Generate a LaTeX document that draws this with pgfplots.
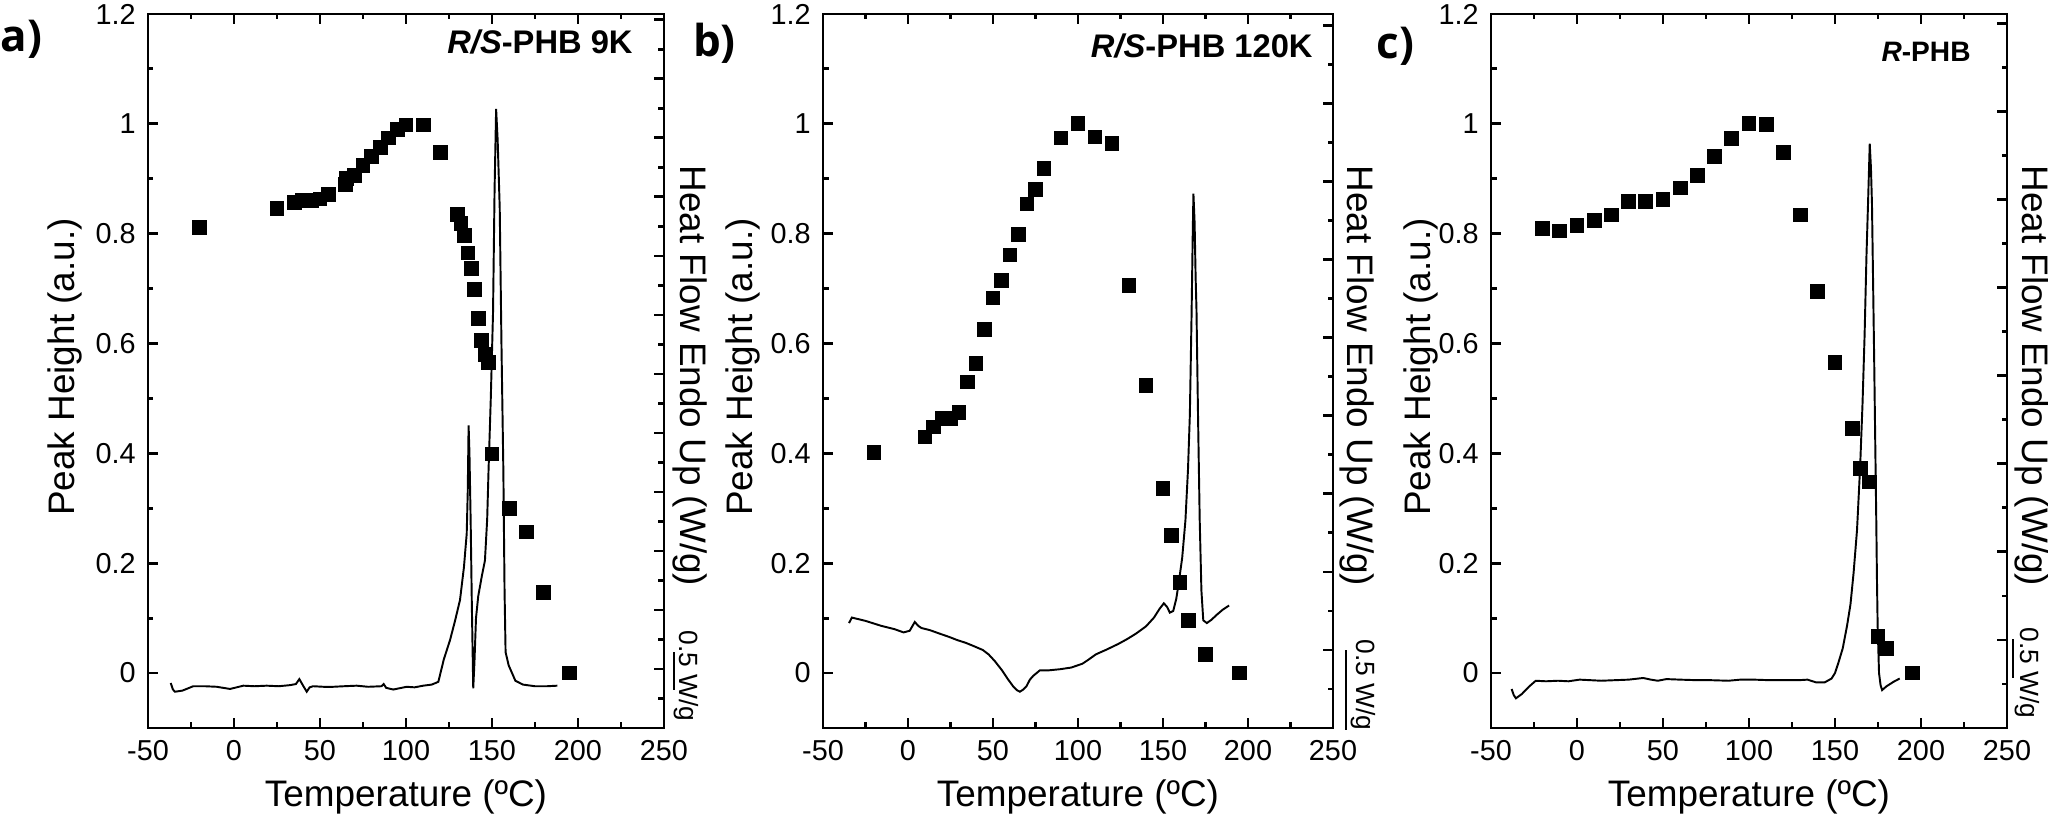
\documentclass[border=0pt]{standalone}
\usepackage{fontspec}
\setmainfont{Liberation Sans}
\newfontfamily\plabelfont{Open Sans}
\usepackage{pgfplots}
\pgfplotsset{compat=1.18}
\pgfplotsset{
  panel/.style={
    scale only axis, anchor=south west, height=7.14cm,
    xmin=-50, xmax=250, ymin=-0.1, ymax=1.2,
    xtick={-50,0,50,100,150,200,250}, minor x tick num=1,
    ytick={0,0.2,0.4,0.6,0.8,1,1.2}, minor y tick num=1,
    tick align=inside, ytick pos=left, xtick pos=both,
    major tick length=1mm, minor tick length=0.55mm,
    axis line style={line width=0.8pt},
    every tick/.style={black, line width=0.8pt},
    tick label style={font=\fontsize{8.2}{9.8}\selectfont},
    /pgf/number format/assume math mode=true,
  },
  rticks/.style={
    scale only axis, anchor=south west, height=7.14cm,
    xmin=-50, xmax=250, ymin=0,
    hide x axis, axis y line*=right,
    ytick distance=1, minor y tick num=1, yticklabels={},
    yticklabel style={opacity=0},
    tick align=inside, major tick length=1mm, minor tick length=0.55mm,
    axis line style={-, line width=0.8pt},
    every tick/.style={black, line width=0.8pt},
  },
  pts/.style={only marks, mark=square*, mark size=1.9pt, black},
  dsc/.style={black, line width=0.55pt, mark=none},
}
\begin{document}
\begin{tikzpicture}[x=1cm,y=1cm]
\useasboundingbox (0,0) rectangle (20.48,8.18);

% ---------------- panel a ----------------
\begin{axis}[panel, at={(1.48cm,0.90cm)}, width=5.16cm]
\addplot[pts] coordinates {
(-20,0.811) (25,0.846) (35,0.857) (40,0.860) (45,0.861) (50,0.863) (55,0.872)
(65,0.889) (65.5,0.900) (70,0.906) (75,0.924) (80,0.941) (85,0.957) (90,0.974)
(95,0.990) (100,0.998) (110,0.998) (120,0.948) (130,0.835) (132,0.818)
(134,0.796) (136,0.765) (138,0.737) (140,0.699) (142,0.646) (144,0.606)
(146,0.580) (148,0.566) (150,0.399) (160,0.300) (170,0.257) (180,0.147) (195,0.0)
};
\addplot[dsc] coordinates {
(-36.8,-0.018) (-35.5,-0.030) (-34.3,-0.034) (-30,-0.032) (-23.7,-0.024) (-17,-0.024)
(-10,-0.025) (-2.3,-0.029) (5.4,-0.023) (12,-0.024) (19,-0.023) (26,-0.024)
(32.6,-0.022) (36,-0.020) (38,-0.011) (40,-0.022) (42.3,-0.034) (44,-0.026)
(46,-0.024) (52,-0.025) (57.7,-0.025) (64,-0.024) (71.3,-0.023) (78,-0.025)
(85.8,-0.024) (87,-0.020) (88.5,-0.027) (92.6,-0.030) (100.4,-0.025) (105,-0.026)
(110,-0.023) (115,-0.021) (118.8,-0.016) (122,0.025) (125.6,0.060) (128.5,0.095)
(131.4,0.133) (133.7,0.193) (135.3,0.254) (135.9,0.33) (136.4,0.451) (136.9,0.40)
(137.6,0.276) (138.3,0.12) (139.1,-0.028) (139.8,0.02) (140.7,0.10) (142,0.140)
(144,0.175) (145.9,0.205) (147.2,0.28) (148,0.37) (149.3,0.50) (150.6,0.656)
(151.5,0.88) (152.4,1.027) (153.3,0.97) (154.5,0.846) (155.5,0.60) (156.6,0.37)
(157.3,0.15) (157.9,0.038) (159.7,0.014) (163.6,-0.014) (168,-0.021) (175,-0.024)
(182,-0.024) (188,-0.023)
};
\end{axis}
\begin{axis}[rticks, at={(1.48cm,0.90cm)}, width=5.16cm, ymax=12.1]
\addplot[draw=none] coordinates {(0,1)};
\end{axis}

% ---------------- panel b ----------------
\begin{axis}[panel, at={(8.23cm,0.90cm)}, width=5.10cm]
\addplot[pts] coordinates {
(-20,0.401) (10,0.430) (15,0.448) (20,0.463) (25,0.463) (30,0.475) (35,0.530)
(40,0.564) (45,0.626) (50,0.683) (55,0.715) (60,0.761) (65,0.798) (70,0.854)
(75,0.880) (80,0.918) (90,0.974) (100,1.000) (110,0.976) (120,0.964) (130,0.705)
(140,0.523) (150,0.336) (155,0.250) (160,0.165) (165,0.096) (175,0.034) (195,0.0)
};
\addplot[dsc] coordinates {
(-34.7,0.091) (-33,0.101) (-25,0.095) (-15.8,0.086) (-8,0.080) (-2.6,0.074) (1,0.077)
(4,0.093) (6,0.086) (7.9,0.082) (13,0.078) (18.4,0.072) (24,0.066) (29,0.060)
(34,0.055) (39.5,0.048) (44,0.042) (47.4,0.034) (51,0.022) (55.3,0.005) (58.5,-0.010)
(61.8,-0.024) (64,-0.031) (65.8,-0.034) (67.8,-0.030) (69.7,-0.024) (71.7,-0.012)
(73.7,-0.005) (77.6,0.005) (83,0.005) (89.5,0.007) (96,0.010) (102.6,0.017)
(106,0.024) (110.5,0.034) (117,0.043) (123.7,0.053) (129,0.062) (134.2,0.072)
(140,0.085) (144.7,0.101) (148,0.117) (150.5,0.127) (152.5,0.120) (154,0.110)
(156,0.113) (157.8,0.135) (159.2,0.163) (161.3,0.210) (163.2,0.278) (164.7,0.370)
(165.8,0.470) (166.8,0.650) (167.5,0.800) (167.9,0.873) (168.6,0.820) (169.2,0.720)
(169.7,0.662) (170.6,0.470) (171.6,0.278) (172.6,0.150) (173.7,0.096) (175.8,0.091)
(178.5,0.097) (181.6,0.106) (185,0.115) (188.9,0.123)
};
\end{axis}
\begin{axis}[rticks, at={(8.23cm,0.90cm)}, width=5.10cm, ymax=9.15]
\addplot[draw=none] coordinates {(0,1)};
\end{axis}

% ---------------- panel c ----------------
\begin{axis}[panel, at={(14.91cm,0.90cm)}, width=5.16cm]
\addplot[pts] coordinates {
(-20,0.809) (-10,0.805) (0,0.815) (10,0.824) (20,0.834) (30,0.858) (40,0.859)
(50,0.862) (60,0.883) (70,0.906) (80,0.940) (90,0.973) (100,1.000) (110,0.999)
(120,0.948) (130,0.834) (140,0.695) (150,0.566) (160,0.445) (165,0.372)
(170,0.348) (175,0.067) (180,0.045) (195,0.0)
};
\addplot[dsc] coordinates {
(-38,-0.029) (-36.8,-0.040) (-35.5,-0.046) (-32,-0.038) (-28,-0.025) (-24,-0.014)
(-18,-0.015) (-11,-0.014) (-5,-0.015) (1.5,-0.012) (8,-0.013) (14,-0.014) (22,-0.013)
(30,-0.012) (38.5,-0.009) (43,-0.012) (47,-0.014) (52,-0.011) (60,-0.012)
(70,-0.013) (78,-0.013) (88,-0.014) (95,-0.012) (103,-0.012) (112,-0.013)
(120,-0.013) (129,-0.013) (134,-0.012) (139,-0.017) (144,-0.017) (148,-0.010)
(150,0.000) (152,0.019) (154.5,0.045) (157,0.086) (159,0.125) (160.8,0.182)
(162.8,0.260) (164.6,0.374) (166,0.490) (167.2,0.614) (168.3,0.760) (169.2,0.854)
(170.2,0.964) (170.9,0.920) (171.5,0.854) (172.2,0.700) (172.8,0.566) (173.4,0.420)
(174,0.278) (174.4,0.170) (174.8,0.086) (175.6,0.000) (176.5,-0.022) (177.4,-0.031)
(180,-0.024) (184,-0.016) (187.6,-0.010)
};
\end{axis}
\begin{axis}[rticks, at={(14.91cm,0.90cm)}, width=5.16cm, ymax=8.11]
\addplot[draw=none] coordinates {(0,1)};
\end{axis}

% ---------------- text ----------------
\def\lab{\fontsize{10.5}{12}\selectfont}
\node[font=\lab] at (4.06,0.21) {Temperature (ºC)};
\node[font=\lab] at (10.78,0.21) {Temperature (ºC)};
\node[font=\lab] at (17.49,0.21) {Temperature (ºC)};

\node[font=\lab, rotate=90] at (0.65,4.51) {Peak Height (a.u.)};
\node[font=\lab, rotate=90] at (7.43,4.51) {Peak Height (a.u.)};
\node[font=\lab, rotate=90] at (14.21,4.51) {Peak Height (a.u.)};

\node[font=\lab, rotate=-90] at (6.90,4.42) {Heat Flow Endo Up (W/g)};
\node[font=\lab, rotate=-90] at (13.57,4.42) {Heat Flow Endo Up (W/g)};
\node[font=\lab, rotate=-90] at (20.32,4.42) {Heat Flow Endo Up (W/g)};

\def\sb{\fontsize{7.5}{9}\selectfont}
\node[font=\sb, rotate=-90] at (6.865,1.42) {0.5 W/g};
\draw[line width=0.6pt] (6.74,1.28) -- (6.74,1.66);
\node[font=\sb, rotate=-90] at (13.63,1.33) {0.5 W/g};
\draw[line width=0.6pt] (13.46,0.88) -- (13.46,1.68);
\node[font=\sb, rotate=-90] at (20.27,1.45) {0.5 W/g};
\draw[line width=0.6pt] (20.13,1.40) -- (20.13,1.79);

\def\ttl{\fontsize{9.3}{11}\selectfont\bfseries}
\node[font=\ttl, anchor=east] at (6.45,7.76) {\textit{R/S}-PHB 9K};
\node[font=\ttl, anchor=east] at (13.25,7.72) {\textit{R/S}-PHB 120K};
\node[font=\fontsize{8}{10}\selectfont\bfseries, anchor=east] at (19.83,7.66) {\textit{R}-PHB};

\def\pl{\plabelfont\fontsize{12.5}{15}\selectfont\bfseries}
\node[font=\pl, anchor=west, inner sep=0pt] at (0.0,7.79) {a)};
\node[font=\pl, inner sep=0pt] at (7.145,7.75) {b)};
\node[font=\pl, inner sep=0pt] at (13.955,7.72) {c)};
\end{tikzpicture}
\end{document}
